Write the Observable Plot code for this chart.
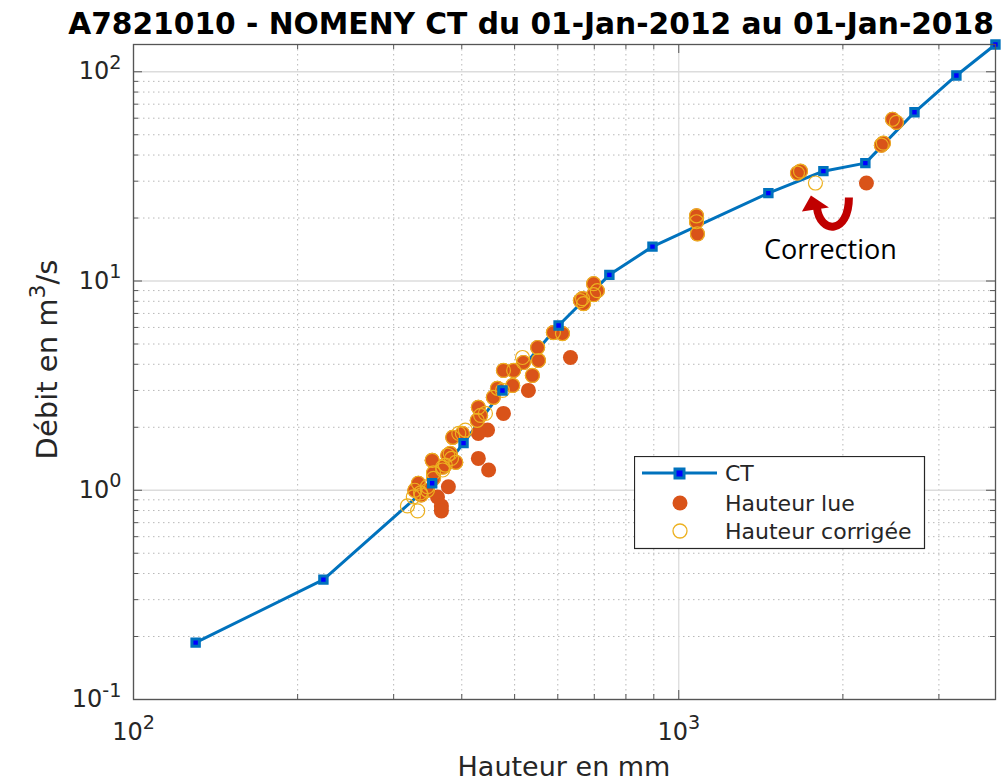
<!DOCTYPE html>
<html><head><meta charset="utf-8">
<script src="https://cdn.jsdelivr.net/npm/d3@7"></script>
<script src="https://cdn.jsdelivr.net/npm/@observablehq/plot@0.6"></script>
<style>
body{margin:0;background:#fff;}
#wrap{position:relative;width:1004px;height:782px;overflow:hidden;background:#fff;}
#title{height:40px;box-sizing:border-box;padding:9px 0 0 58px;text-align:center;font:bold 29.7px/30px "DejaVu Sans",sans-serif;color:#000;white-space:nowrap;}
#chart svg{display:block;}
#legend{position:absolute;left:634px;top:456px;}
</style></head>
<body>
<div id="wrap">
<div id="title">A7821010 - NOMENY CT du 01-Jan-2012 au 01-Jan-2018</div>
<div id="chart"></div>
<svg id="legend" width="292" height="94" font-family="DejaVu Sans, sans-serif" font-size="22">
  <rect x="0.5" y="0.5" width="290" height="92" fill="#fff" stroke="#262626" stroke-width="1.2"/>
  <line x1="8" y1="17" x2="83" y2="17" stroke="#0072BD" stroke-width="3"/>
  <rect x="41" y="13" width="9" height="9" fill="#0000FF" stroke="#0072BD" stroke-width="3"/>
  <text x="91" y="17" dy="0.35em" fill="#262626">CT</text>
  <circle cx="46" cy="47" r="7.5" fill="#D95319"/>
  <text x="91" y="47" dy="0.35em" fill="#262626">Hauteur lue</text>
  <circle cx="46" cy="75" r="7" fill="none" stroke="#EDB120" stroke-width="1.3"/>
  <text x="91" y="75" dy="0.35em" fill="#262626">Hauteur corrigée</text>
</svg>
</div>
<script>
// Courbe de tarage (CT)
const ctHauteur = [130, 223, 353, 403, 475, 602, 746, 895, 1460, 1842, 2199, 2706, 3230, 3809];
const ctDebit   = [0.187, 0.374, 1.08, 1.68, 3.00, 6.13, 10.7, 14.6, 26.3, 33.5, 36.6, 64.0, 96.0, 135];

// Jaugeages : débit, hauteur lue, hauteur corrigée
const mesDebit = [59.3, 57.3, 45.6, 44.6, 29.4, 33.5, 32.8, 20.5, 19.2, 16.8,
  9.71, 8.99, 8.61, 8.24, 7.80, 8.06, 5.67, 5.61, 4.31, 4.81,
  4.17, 4.08, 3.74, 3.74, 3.54, 3.17, 3.00, 3.07, 2.78, 2.33,
  2.28, 2.49, 2.16, 1.94, 1.87, 1.79, 1.87, 1.50, 1.36, 1.42,
  1.25, 1.47, 1.29, 1.32, 1.21, 1.14, 1.08, 1.00, 0.950, 0.971,
  1.04, 0.929, 0.842, 0.797, 1.00, 1.39];
const mesHauteurLue = [2466, 2507, 2373, 2353, 2209, 1672, 1651, 1078, 1078, 1082,
  698, 709, 698, 666, 669, 660, 589, 612, 633, 551,
  553, 519, 477, 498, 539, 496, 530, 465, 457, 477,
  433, 429, 427, 446, 429, 385, 401, 381, 390, 429,
  448, 377, 369, 373, 355, 355, 333, 328, 337, 336,
  378, 361, 367, 367, 346, 353];
const mesHauteurCorrigee = [2466, 2507, 2373, 2353, 1781, 1672, 1651, 1078, 1078, 1082,
  698, 709, 698, 666, 669, 660, 589, 612, 517, 551,
  553, 519, 477, 498, 539, 496, 475, 465, 457, 442,
  433, 429, 427, 406, 395, 385, 401, 381, 390, 383,
  369, 377, 369, 373, 355, 355, 333, 328, 337, 336,
  346, 326, 318, 332, 346, 353];

// Graduations
const xMajorTicks = [100, 1000];
const xMinorTicks = [200, 300, 400, 500, 600, 700, 800, 900, 2000, 3000];
const yMajorTicks = [0.1, 1, 10, 100];
const yMinorTicks = [0.2, 0.3, 0.4, 0.5, 0.6, 0.7, 0.8, 0.9, 2, 3, 4, 5, 6, 7, 8, 9, 20, 30, 40, 50, 60, 70, 80, 90];

const xLabel = "Hauteur en mm";
const yLabel = "Débit en m^3/s";
const annotation = "Correction";
const correctionIndex = 4;

const ct = ctHauteur.map((h, i) => ({h, q: ctDebit[i]}));
const mes = mesDebit.map((q, i) => ({q, hl: mesHauteurLue[i], hc: mesHauteurCorrigee[i]}));

const W = 1004, H = 742, mL = 133, mR = 9, mT = 4, mB = 83;
const innerW = W - mL - mR, innerH = H - mT - mB;
const axisColor = "#555";
const fmt = d => "10^" + Math.round(Math.log10(d));

const chart = Plot.plot({
  width: W, height: H,
  marginLeft: mL, marginRight: mR, marginTop: mT, marginBottom: mB,
  style: {fontFamily: '"DejaVu Sans", sans-serif', fontSize: "24px", color: "#262626", background: "white", overflow: "visible"},
  x: {type: "log", domain: [100, 3810], ticks: xMajorTicks, tickFormat: fmt, tickSize: 0, tickPadding: 23, label: null},
  y: {type: "log", domain: [0.1, 135], ticks: yMajorTicks, tickFormat: fmt, tickSize: 0, tickPadding: 12, label: null},
  marks: [
    Plot.ruleX(xMinorTicks, {stroke: "#b8b8b8", strokeDasharray: "1.5,3.5"}),
    Plot.ruleY(yMinorTicks, {stroke: "#b8b8b8", strokeDasharray: "1.5,3.5"}),
    Plot.ruleX(xMajorTicks, {stroke: "#dcdcdc", strokeWidth: 1.3}),
    Plot.ruleY(yMajorTicks, {stroke: "#dcdcdc", strokeWidth: 1.3}),
    // inward ticks on the four sides
    Plot.tickX(xMajorTicks, {stroke: axisColor, insetTop: innerH - 9}),
    Plot.tickX(xMajorTicks, {stroke: axisColor, insetBottom: innerH - 9}),
    Plot.tickX(xMinorTicks, {stroke: axisColor, insetTop: innerH - 5}),
    Plot.tickX(xMinorTicks, {stroke: axisColor, insetBottom: innerH - 5}),
    Plot.tickY(yMajorTicks, {stroke: axisColor, insetRight: innerW - 9}),
    Plot.tickY(yMajorTicks, {stroke: axisColor, insetLeft: innerW - 9}),
    Plot.tickY(yMinorTicks, {stroke: axisColor, insetRight: innerW - 5}),
    Plot.tickY(yMinorTicks, {stroke: axisColor, insetLeft: innerW - 5}),
    Plot.line(ct, {x: "h", y: "q", stroke: "#0072BD", strokeWidth: 3}),
    Plot.dot(mes, {x: "hl", y: "q", r: 7.5, fill: "#D95319"}),
    Plot.dot(mes, {x: "hc", y: "q", r: 7, fill: "none", stroke: "#EDB120", strokeWidth: 1.2}),
    Plot.dot(ct, {x: "h", y: "q", symbol: "square", r: 4.2, fill: "#0000FF", stroke: "#0072BD", strokeWidth: 3}),
    Plot.text([mes[correctionIndex]], {x: "hc", y: "q", text: () => annotation, dx: 15, dy: 67, fontSize: 27, fontFamily: '"Open Sans", sans-serif', fill: "black"}),
    Plot.frame({stroke: axisColor, strokeWidth: 1.3})
  ]
});

document.getElementById("chart").appendChild(chart);

// superscripts in tick labels
const svg = d3.select(chart);
svg.selectAll("text").each(function() {
  const m = /^10\^(-?\d+)$/.exec(this.textContent);
  if (m) {
    const s = d3.select(this);
    s.text("10");
    s.append("tspan").attr("dy", "-0.55em").attr("font-size", "0.8em").text(m[1]);
  }
});
// MATLAB places the base digits slightly below the tick
svg.selectAll('g[aria-label="y-axis"] text').attr("dy", "0.5em");

// axis labels
const sx = chart.scale("x"), sy = chart.scale("y");
svg.append("text").attr("x", mL + innerW / 2).attr("y", H - 6)
  .attr("text-anchor", "middle").attr("font-size", 27).attr("fill", "#262626").text(xLabel);
const ylParts = /^(.*)\^(\d)(.*)$/.exec(yLabel);
const yl = svg.append("text").attr("transform", `translate(57,${(mT + innerH / 2) - 12}) rotate(-90)`)
  .attr("text-anchor", "middle").attr("font-size", 29).attr("fill", "#262626");
yl.append("tspan").text(ylParts[1]);
yl.append("tspan").attr("dy", -12).attr("font-size", 22).text(ylParts[2]);
yl.append("tspan").attr("dy", 12).attr("font-size", 29).text(ylParts[3]);

// curved correction arrow, placed through the scales
const rp = mes[correctionIndex];
const px = sx.apply(rp.hc), py = sy.apply(rp.q);
const g = svg.append("g").attr("fill", "#C00000");
g.append("path")
  .attr("d", `M${px + 2},${py + 25} C${px + 5},${py + 52} ${px + 34},${py + 52} ${px + 34},${py + 15}`)
  .attr("fill", "none").attr("stroke", "#C00000").attr("stroke-width", 8);
g.append("path")
  .attr("d", `M${px - 4},${py + 13} L${px - 13},${py + 29} L${px + 14},${py + 25} Z`);
</script>
</body></html>
